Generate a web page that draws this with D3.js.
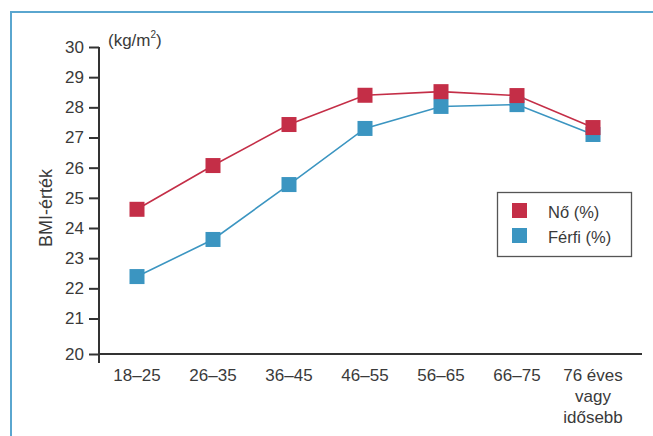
<!DOCTYPE html>
<html>
<head>
<meta charset="utf-8">
<script src="https://cdn.jsdelivr.net/npm/d3@7"></script>
<style>
  html, body { margin: 0; padding: 0; background: #fff; }
  svg { display: block; }
  text { font-family: "Liberation Sans", Arial, sans-serif; fill: #3a3a3a; }
</style>
</head>
<body>
<svg id="chart" width="653" height="436"></svg>
<script>
const categories = ["18–25", "26–35", "36–45", "46–55", "56–65", "66–75", "76 éves\nvagy\nidősebb"];
const noValues = [24.62, 26.07, 27.43, 28.4, 28.52, 28.39, 27.33];
const ferfiValues = [22.39, 23.62, 25.44, 27.3, 28.03, 28.09, 27.1];
const yTicks = [20, 21, 22, 23, 24, 25, 26, 27, 28, 29, 30];
const seriesNames = ["Nő (%)", "Férfi (%)"];

const colors = { no: "#c42e47", ferfi: "#3b95c1" };
const svg = d3.select("#chart");

// frame
svg.append("path")
  .attr("d", "M11,436 V12 H653")
  .attr("fill", "none")
  .attr("stroke", "#5aa6cf")
  .attr("stroke-width", 2);

const x = d3.scalePoint().domain(categories).range([137, 593]);
// axis is broken between 20 and 21
const y = d3.scaleLinear().domain([20, 21, 30]).range([354, 318.5, 47]);

const axisColor = "#333";

// y axis
const yAxis = svg.append("g").attr("transform", "translate(99,0)")
  .call(d3.axisLeft(y).tickValues(yTicks).tickSize(10).tickPadding(5).tickSizeOuter(0));
yAxis.select(".domain").remove();
yAxis.selectAll(".tick line").attr("stroke", axisColor).attr("stroke-width", 2);
yAxis.selectAll(".tick text").attr("font-size", 17).attr("fill", "#3a3a3a")
  .attr("font-family", "Liberation Sans, Arial, sans-serif");
yAxis.append("line").attr("x1", 0).attr("x2", 0).attr("y1", y(30)).attr("y2", 363)
  .attr("stroke", axisColor).attr("stroke-width", 2);

// x axis
svg.append("line").attr("x1", 98).attr("x2", 642).attr("y1", 354).attr("y2", 354)
  .attr("stroke", axisColor).attr("stroke-width", 2);

const xl = svg.append("g");
categories.forEach(c => {
  const lines = c.split("\n");
  const t = xl.append("text")
    .attr("x", x(c)).attr("y", 381)
    .attr("text-anchor", "middle")
    .attr("font-size", 17);
  lines.forEach((ln, i) => {
    t.append("tspan").attr("x", x(c)).attr("dy", i === 0 ? 0 : 21).text(ln);
  });
});

// y label
svg.append("text")
  .attr("transform", "translate(52,208) rotate(-90)")
  .attr("text-anchor", "middle")
  .attr("font-size", 18)
  .text("BMI-érték");

// unit
const unit = svg.append("text").attr("x", 108).attr("y", 46).attr("font-size", 17);
unit.append("tspan").text("(kg/m");
unit.append("tspan").attr("font-size", 10).attr("dy", -8).text("2");
unit.append("tspan").attr("dy", 8).text(")");

// series
const series = [
  { key: "ferfi", values: ferfiValues },
  { key: "no", values: noValues }
];
const line = d3.line().x((d, i) => x(categories[i])).y(d => y(d));
const ms = 15;
series.forEach(s => {
  svg.append("path").datum(s.values)
    .attr("d", line)
    .attr("fill", "none")
    .attr("stroke", colors[s.key])
    .attr("stroke-width", 1.6);
});
series.forEach(s => {
  svg.append("g").selectAll("rect").data(s.values).join("rect")
    .attr("x", (d, i) => x(categories[i]) - ms / 2)
    .attr("y", d => y(d) - ms / 2)
    .attr("width", ms).attr("height", ms)
    .attr("fill", colors[s.key]);
});

// legend
const lg = svg.append("g");
lg.append("rect").attr("x", 497.5).attr("y", 192.5).attr("width", 134).attr("height", 64)
  .attr("fill", "#fff").attr("stroke", "#555").attr("stroke-width", 1.3);
const legendItems = [
  { name: seriesNames[0], color: colors.no, y: 203 },
  { name: seriesNames[1], color: colors.ferfi, y: 228 }
];
legendItems.forEach(it => {
  lg.append("rect").attr("x", 512).attr("y", it.y).attr("width", 15).attr("height", 15).attr("fill", it.color);
  lg.append("text").attr("x", 548).attr("y", it.y + 15).attr("font-size", 16.5).text(it.name);
});
</script>
</body>
</html>
